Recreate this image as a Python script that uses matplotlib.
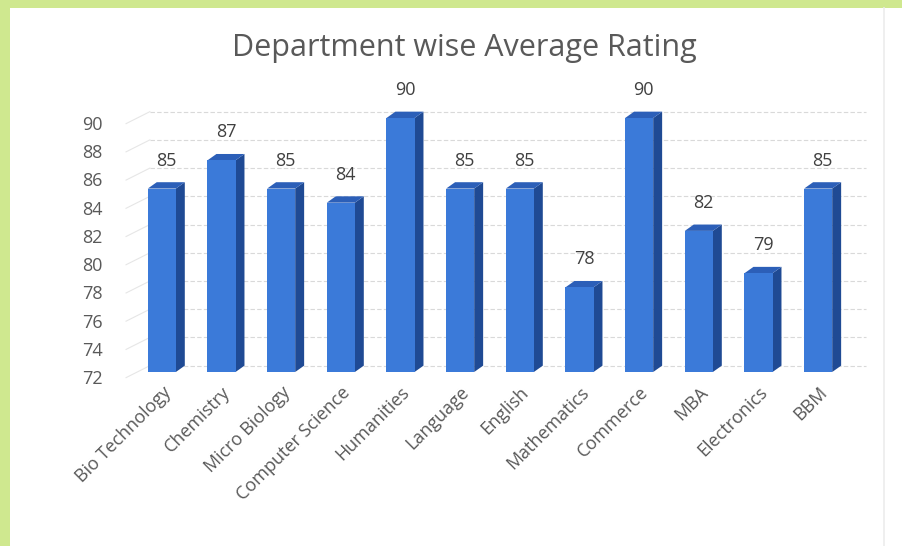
import matplotlib.pyplot as plt
from matplotlib.patches import Polygon, Rectangle
from matplotlib.transforms import ScaledTranslation

# departments and their average rating
departments = ["Bio Technology", "Chemistry", "Micro Biology", "Computer Science",
               "Humanities", "Language", "English", "Mathematics", "Commerce",
               "MBA", "Electronics", "BBM"]
ratings = [85, 87, 85, 84, 90, 85, 85, 78, 90, 82, 79, 85]
y_ticks = list(range(72, 91, 2))

plt.rcParams['font.family'] = ['Open Sans', 'DejaVu Sans']

fig = plt.figure(figsize=(9.03, 5.46), dpi=100)
fig.patch.set_facecolor('#cfe88f')
# white inner panel of the scanned page
fig.patches.append(Rectangle((10 / 903, 0), 1, 1 - 8 / 546, transform=fig.transFigure,
                             facecolor='white', edgecolor='none', zorder=-10))
fig.lines.append(plt.Line2D([884 / 903, 884 / 903], [0, 1 - 8 / 546], transform=fig.transFigure,
                            color='#ececec', lw=1.2, zorder=-5))

ax = fig.add_axes([132 / 903, 1 - 372 / 546, 716 / 903, 254 / 546])
ax.set_facecolor('none')

width = 0.47
dx, dy = 0.15, 0.45  # 3d depth offset in data units
ymin = 72

# back-wall gridlines
for t in y_ticks:
    ax.plot([-0.5 + dx * 2, 11.5 + dx * 2], [t + dy, t + dy],
            color='#d9d9d9', lw=0.8, ls=(0, (4, 2)), zorder=1, clip_on=False)
    ax.plot([-0.6, -0.5 + dx * 2], [t - 0.4, t + dy], color='#e6e6e6', lw=0.8,
            zorder=1, clip_on=False)

for i, v in enumerate(ratings):
    x0 = i - width / 2
    x1 = i + width / 2
    # side face
    ax.add_patch(Polygon([(x1, ymin), (x1 + dx, ymin + dy), (x1 + dx, v + dy), (x1, v)],
                         closed=True, facecolor='#1f4a94', edgecolor='none', zorder=3,
                         clip_on=False))
    # top face
    ax.add_patch(Polygon([(x0, v), (x0 + dx, v + dy), (x1 + dx, v + dy), (x1, v)],
                         closed=True, facecolor='#2c5fb8', edgecolor='none', zorder=3,
                         clip_on=False))
    ax.text(i + dx / 2, v + dy + 0.9, str(v), ha='center', va='bottom', fontsize=13,
            color='#404040', zorder=4)

bars = ax.bar(range(len(departments)), [r - ymin for r in ratings], bottom=ymin, width=width,
              color='#3b7ad9', edgecolor='none', zorder=3)
for b in bars:
    b.set_clip_on(False)

ax.set_xlim(-0.5, 11.5)
ax.set_ylim(ymin, 90)
ax.set_yticks(y_ticks)
ax.set_yticklabels([str(t) for t in y_ticks], fontsize=13, color='#595959')
ax.set_xticks(range(len(departments)))
ax.set_xticklabels(departments, rotation=45, ha='right', rotation_mode='anchor',
                   fontsize=13, color='#595959')
ax.tick_params(length=0, pad=8)
ax.tick_params(axis='y', pad=21)
# y labels sit a little lower than the bars in the 3d view
shift = ScaledTranslation(0, -5 / 100, fig.dpi_scale_trans)
for lab in ax.get_yticklabels():
    lab.set_transform(lab.get_transform() + shift)
for s in ax.spines.values():
    s.set_visible(False)

fig.text(464 / 903, 1 - 48 / 546, "Department wise Average Rating", ha='center', va='center',
         fontsize=22, color='#595959')

fig.savefig("out.png", dpi=100, facecolor=fig.get_facecolor())
